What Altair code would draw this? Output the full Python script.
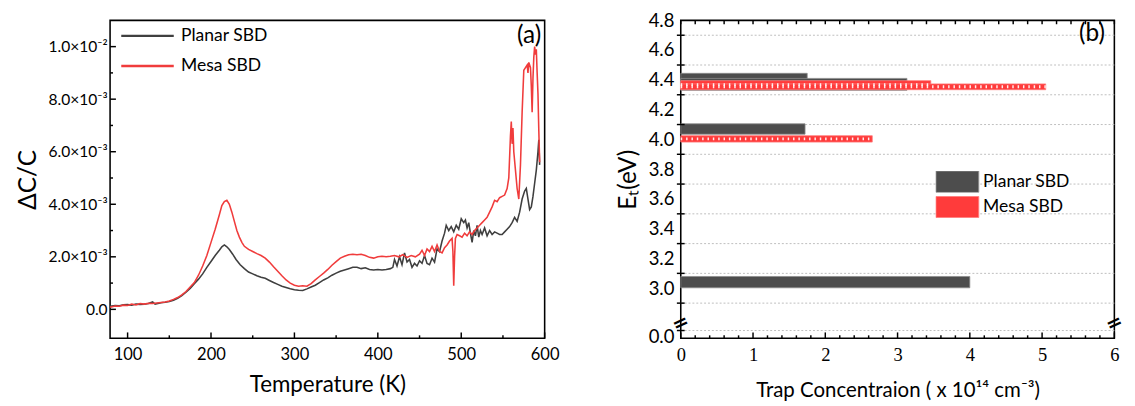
import altair as alt
import pandas as pd

# ---------------- Panel (a): DLTS-like spectra ----------------
planar_T = [79, 85, 90, 95, 100, 105, 110, 115, 120, 125, 130, 133, 140, 145, 150, 155, 160, 165, 170, 175,
            180, 185, 190, 195, 200, 205, 210, 213, 216, 219, 222, 226, 230, 235, 240, 245, 250, 255, 260, 265,
            270, 275, 280, 285, 290, 295, 300, 305, 310, 315, 320, 325, 330, 335, 340, 345, 350, 355, 360, 365,
            370, 375, 380, 385, 390, 395, 400, 405, 410, 415, 418, 420, 423, 426, 429, 432, 435, 438, 441, 444,
            447, 450, 453, 456, 459, 462, 465, 468, 471, 474, 477, 480, 482, 485, 488, 491, 494, 497, 500, 503,
            505, 507, 509, 511, 513, 515, 517, 519, 521, 523, 525, 528, 531, 534, 537, 540, 543, 546, 549, 552,
            555, 558, 561, 564, 567, 570, 573, 576, 578, 580, 582, 584, 586, 588, 590, 592, 593, 594]
planar_dCC_e3 = [0.12, 0.15, 0.14, 0.17, 0.18, 0.16, 0.20, 0.19, 0.20, 0.22, 0.28, 0.20, 0.25, 0.27, 0.30, 0.35, 0.42, 0.52, 0.65, 0.80,
                 0.98, 1.15, 1.35, 1.60, 1.82, 2.05, 2.25, 2.38, 2.45, 2.38, 2.28, 2.10, 1.90, 1.70, 1.55, 1.42, 1.35, 1.28, 1.22, 1.18,
                 1.10, 1.02, 0.95, 0.88, 0.83, 0.78, 0.75, 0.73, 0.72, 0.78, 0.85, 0.92, 1.02, 1.12, 1.20, 1.30, 1.38, 1.45, 1.50, 1.55,
                 1.60, 1.60, 1.55, 1.58, 1.52, 1.50, 1.52, 1.50, 1.52, 1.55, 1.60, 1.90, 1.65, 2.00, 1.70, 2.15, 1.80, 1.90, 1.60, 1.75,
                 1.65, 1.85, 1.75, 2.05, 1.75, 1.70, 1.95, 1.80, 2.30, 2.20, 2.60, 2.90, 3.20, 3.00, 3.15, 2.95, 3.20, 3.05, 3.45, 3.30,
                 3.40, 3.10, 3.30, 2.90, 2.55, 3.00, 2.80, 3.20, 2.75, 3.00, 2.85, 3.10, 2.80, 3.00, 2.85, 2.95, 2.90, 2.85, 2.85, 2.95,
                 3.05, 3.15, 3.30, 3.50, 3.35, 3.70, 4.20, 4.50, 4.60, 4.20, 3.80, 3.90, 4.30, 4.80, 5.30, 6.00, 6.45, 5.50]

mesa_T = [79, 85, 90, 95, 100, 105, 110, 115, 120, 125, 130, 135, 140, 145, 150, 155, 160, 165, 170, 175,
          180, 185, 190, 195, 200, 205, 210, 213, 216, 219, 222, 225, 228, 231, 234, 237, 240, 245, 250, 255,
          260, 265, 270, 275, 280, 285, 290, 295, 300, 305, 310, 315, 320, 325, 330, 335, 340, 345, 350, 355,
          360, 365, 370, 375, 380, 385, 390, 395, 400, 405, 410, 415, 420, 425, 430, 435, 440, 445, 450, 453,
          456, 459, 462, 465, 468, 471, 474, 477, 480, 483, 486, 489, 490, 491, 492, 493, 495, 498, 501, 504,
          507, 510, 513, 516, 519, 522, 525, 528, 531, 534, 537, 540, 543, 546, 549, 552, 555, 557, 559, 560,
          561, 562, 563, 565, 567, 569, 571, 573, 575, 577, 579, 580, 581, 583, 584, 585, 586, 587, 588, 589,
          590, 591, 592, 593, 594]
mesa_dCC_e3 = [0.08, 0.13, 0.12, 0.16, 0.15, 0.20, 0.17, 0.22, 0.20, 0.23, 0.22, 0.24, 0.26, 0.28, 0.32, 0.38, 0.45, 0.55, 0.68, 0.85,
               1.02, 1.30, 1.65, 2.05, 2.55, 3.05, 3.60, 3.95, 4.10, 4.15, 4.00, 3.70, 3.35, 3.00, 2.75, 2.55, 2.40, 2.28, 2.20, 2.12,
               2.05, 1.95, 1.80, 1.62, 1.45, 1.28, 1.12, 1.00, 0.92, 0.88, 0.90, 0.88, 0.98, 1.12, 1.25, 1.38, 1.52, 1.68, 1.82, 1.95,
               2.02, 2.08, 2.10, 2.08, 2.10, 2.05, 1.98, 1.95, 2.00, 2.02, 2.00, 2.02, 2.05, 2.00, 2.08, 1.98, 2.05, 2.00, 2.10, 2.25,
               2.05, 2.30, 2.20, 2.40, 2.20, 2.45, 2.20, 2.15, 2.35, 2.45, 2.60, 2.70, 2.20, 0.90, 2.00, 2.70, 2.85, 2.80, 2.75, 2.90,
               2.80, 2.95, 2.85, 3.00, 3.10, 3.20, 3.30, 3.40, 3.50, 3.70, 3.90, 4.15, 4.10, 4.25, 4.30, 4.35, 4.60, 5.00, 6.60, 7.15,
               6.30, 6.90, 6.00, 5.30, 4.60, 4.20, 5.50, 7.50, 9.10, 9.20, 9.30, 9.00, 9.40, 9.20, 8.50, 7.50, 8.80, 9.60, 10.00, 9.70,
               9.90, 9.00, 8.20, 6.80, 5.60]

a_series = ["Planar SBD", "Mesa SBD"]
a_colors = ["#3f3f3f", "#f03c3c"]
a_major_x = [100, 200, 300, 400, 500, 600]
a_minor_x = [150, 250, 350, 450, 550]
a_major_y = [0.0, 0.002, 0.004, 0.006, 0.008, 0.010]
a_minor_y = [0.001, 0.003, 0.005, 0.007, 0.009]

# ---------------- Panel (b): trap concentrations ----------------
b_series = ["Planar SBD", "Planar SBD", "Planar SBD", "Planar SBD", "Mesa SBD", "Mesa SBD", "Mesa SBD"]
b_conc = [1.75, 3.13, 1.72, 4.00, 3.46, 5.05, 2.65]
b_E_low = [4.360, 4.330, 4.035, 3.003, 4.341, 4.334, 3.982]
b_E_high = [4.444, 4.410, 4.105, 3.079, 4.395, 4.373, 4.025]
b_colors = ["#4d4d4d", "#ff3b3b"]
b_label_vals = [2.677, 3.0, 3.2, 3.4, 3.6, 3.8, 4.0, 4.2, 4.4, 4.6, 4.8]
b_grid_vals = [2.716, 2.9, 3.1, 3.3, 3.5, 3.7, 3.9, 4.1, 4.3, 4.5, 4.7]
b_x_major = [0, 1, 2, 3, 4, 5, 6]
b_x_minor = [0.2, 0.4, 0.6, 0.8, 1.2, 1.4, 1.6, 1.8, 2.2, 2.4, 2.6, 2.8, 3.2, 3.4, 3.6, 3.8,
             4.2, 4.4, 4.6, 4.8, 5.2, 5.4, 5.6, 5.8]
b_break_x = [0, 6]
b_break_E = [2.764, 2.764]

SANS = "Lato"
W, H = 447, 327
WB = 446

# ---------------- build panel (a) ----------------
df_a = pd.concat([
    pd.DataFrame({"T": planar_T, "v": [v * 1e-3 for v in planar_dCC_e3], "s": a_series[0], "o": 0}),
    pd.DataFrame({"T": mesa_T, "v": [v * 1e-3 for v in mesa_dCC_e3], "s": a_series[1], "o": 1}),
])

xa = alt.Scale(domain=[79, 600], nice=False, zero=False)
ya = alt.Scale(domain=[-0.0011, 0.0110], nice=False, zero=False)

y_label_expr = ("datum.value < 1e-9 ? '0.0' : datum.value > 0.0095 ? '1.0×10⁻²' : "
                "format(datum.value*1000, '.1f') + '×10⁻³'")

ax_a_x = alt.Axis(title="Temperature (K)", values=a_major_x, ticks=False, domain=False,
                  grid=False, labelFont=SANS, labelFontSize=17, labelPadding=9,
                  labelColor="black", titleFont=SANS, titleFontSize=23,
                  titleFontWeight="normal", titleColor="black", titlePadding=12, labelFlush=False)
ax_a_y = alt.Axis(title="ΔC/C", values=a_major_y, labelExpr=y_label_expr, ticks=False,
                  domain=False, grid=False, labelFont=SANS, labelFontSize=16,
                  labelPadding=3, labelColor="black", titleFont=SANS, titleFontSize=25,
                  titleFontWeight="normal", titleColor="black", titlePadding=8)

lines = alt.Chart(df_a).mark_line(strokeWidth=1.6, interpolate="linear").encode(
    x=alt.X("T:Q", scale=xa, axis=ax_a_x),
    y=alt.Y("v:Q", scale=ya, axis=ax_a_y),
    color=alt.Color("s:N", scale=alt.Scale(domain=a_series, range=a_colors),
                    legend=alt.Legend(title=None, orient="none", legendX=10, legendY=6, symbolType="stroke",
                                      symbolSize=2916, symbolStrokeWidth=2.5, labelFont=SANS, labelFontSize=18,
                                      labelColor="black", labelOffset=6, rowPadding=11, clipHeight=20)),
    detail="s:N",
    order="o:Q",
)

tx_major = alt.Chart(pd.DataFrame({"T": a_major_x})).mark_rule(color="black", strokeWidth=1.5).encode(
    x=alt.X("T:Q", scale=xa, axis=ax_a_x), y=alt.value(H), y2=alt.value(H - 6))
tx_minor = alt.Chart(pd.DataFrame({"T": a_minor_x})).mark_rule(color="black", strokeWidth=1.5).encode(
    x=alt.X("T:Q", scale=xa, axis=ax_a_x), y=alt.value(H), y2=alt.value(H - 3))
ty_major = alt.Chart(pd.DataFrame({"v": a_major_y})).mark_rule(color="black", strokeWidth=1.5).encode(
    y=alt.Y("v:Q", scale=ya, axis=ax_a_y), x=alt.value(0), x2=alt.value(6))
ty_minor = alt.Chart(pd.DataFrame({"v": a_minor_y})).mark_rule(color="black", strokeWidth=1.5).encode(
    y=alt.Y("v:Q", scale=ya, axis=ax_a_y), x=alt.value(0), x2=alt.value(3))
lab_a = alt.Chart(pd.DataFrame({"txt": ["(a)"]})).mark_text(font=SANS, fontSize=25, color="black").encode(
    text="txt:N", x=alt.value(431), y=alt.value(15))

panel_a = alt.layer(lines, tx_major, tx_minor, ty_major, ty_minor, lab_a).properties(width=W, height=H)

# ---------------- build panel (b) ----------------
df_b = pd.DataFrame({"s": b_series, "c0": [0] * len(b_conc), "c": b_conc, "E": b_E_low, "hi": b_E_high})
xb = alt.Scale(domain=[0, 6], nice=False, zero=False)
yb = alt.Scale(domain=[2.664, 4.8], nice=False, zero=False)

ax_b_x = alt.Axis(title="Trap Concentraion ( x 10¹⁴ cm⁻³)", values=b_x_major,
                  ticks=False, domain=False, grid=False, labelFont="Liberation Serif",
                  labelFontSize=19, labelPadding=8, labelColor="black", titleFont=SANS,
                  titleFontSize=21, titleFontWeight="normal", titleColor="black",
                  titlePadding=16, labelFlush=False)
ax_b_y = alt.Axis(title="Eₜ(eV)", values=b_label_vals,
                  labelExpr="datum.value < 2.8 ? '0.0' : format(datum.value, '.1f')",
                  ticks=False, domain=False, grid=False, labelFont=SANS,
                  labelFontSize=19, labelPadding=7, labelColor="black",
                  titleFont=SANS, titleFontSize=25, titleFontWeight="normal",
                  titleColor="black", titlePadding=8)

grid = alt.Chart(pd.DataFrame({"E": b_grid_vals})).mark_rule(color="#bdbdbd", strokeWidth=1, strokeDash=[2, 2]).encode(
    y=alt.Y("E:Q", scale=yb, axis=ax_b_y), x=alt.value(0), x2=alt.value(WB))

bars = alt.Chart(df_b).mark_rect(strokeWidth=0.8).encode(
    x=alt.X("c0:Q", scale=xb, axis=ax_b_x),
    x2="c:Q",
    y=alt.Y("E:Q", scale=yb, axis=ax_b_y),
    y2="hi:Q",
    fill=alt.Fill("s:N", scale=alt.Scale(domain=a_series, range=b_colors),
                  legend=alt.Legend(title=None, orient="none", legendX=262, legendY=155,
                                    symbolType="M-1,-0.5H1V0.5H-1Z", symbolSize=1936, symbolStrokeWidth=1,
                                    symbolStrokeColor="#9a9a9a", labelFont=SANS, labelFontSize=18,
                                    labelColor="black", labelOffset=4, rowPadding=4, clipHeight=22)),
    stroke=alt.Stroke("s:N", scale=alt.Scale(domain=a_series, range=["#8c8c8c", "#ff7a7a"]), legend=None),
)

hatch = alt.Chart(df_b).transform_filter(alt.datum.s == "Mesa SBD").transform_calculate(
    E="(datum.E + datum.hi) / 2").mark_rule(color="white", strokeWidth=3, strokeDash=[1.5, 4], opacity=0.9).encode(
    x=alt.X("c0:Q", scale=xb, axis=ax_b_x), x2="c:Q", y=alt.Y("E:Q", scale=yb, axis=ax_b_y))

tl = alt.Chart(pd.DataFrame({"E": b_grid_vals})).mark_rule(color="black", strokeWidth=1.5).encode(
    y=alt.Y("E:Q", scale=yb, axis=ax_b_y), x=alt.value(-4), x2=alt.value(4))
tb_major = alt.Chart(pd.DataFrame({"c0": b_x_major})).mark_rule(color="black", strokeWidth=1.5).encode(
    x=alt.X("c0:Q", scale=xb, axis=ax_b_x), y=alt.value(H), y2=alt.value(H - 6))
tb_minor = alt.Chart(pd.DataFrame({"c0": b_x_minor})).mark_rule(color="black", strokeWidth=1.5).encode(
    x=alt.X("c0:Q", scale=xb, axis=ax_b_x), y=alt.value(H), y2=alt.value(H - 3))
tt_minor = alt.Chart(pd.DataFrame({"c0": b_x_minor + b_x_major})).mark_rule(color="black", strokeWidth=1.5).encode(
    x=alt.X("c0:Q", scale=xb, axis=ax_b_x), y=alt.value(0), y2=alt.value(4))
brk = alt.Chart(pd.DataFrame({"c0": b_break_x, "E": b_break_E, "txt": ["=", "="]})).mark_text(
    font="DejaVu Sans", fontSize=20, angle=335, color="black", fontWeight="bold").encode(
    x=alt.X("c0:Q", scale=xb, axis=ax_b_x), y=alt.Y("E:Q", scale=yb, axis=ax_b_y), text="txt:N")
lab_b = alt.Chart(pd.DataFrame({"txt": ["(b)"]})).mark_text(font=SANS, fontSize=25, color="black").encode(
    text="txt:N", x=alt.value(423), y=alt.value(13))

panel_b = alt.layer(grid, bars, hatch, tl, tb_major, tb_minor, tt_minor, brk, lab_b).properties(width=WB, height=H)

chart = alt.hconcat(panel_a, panel_b, spacing=56).resolve_scale(
    color="independent", fill="independent", stroke="independent", x="independent", y="independent"
).resolve_legend(color="independent", fill="independent", stroke="independent").properties(
    padding={"left": 7, "top": -3, "right": 0, "bottom": 0}
).configure(background="white").configure_view(stroke="black", strokeWidth=1.6)

chart.save("out.html", embed_options={"renderer": "svg", "actions": False})
